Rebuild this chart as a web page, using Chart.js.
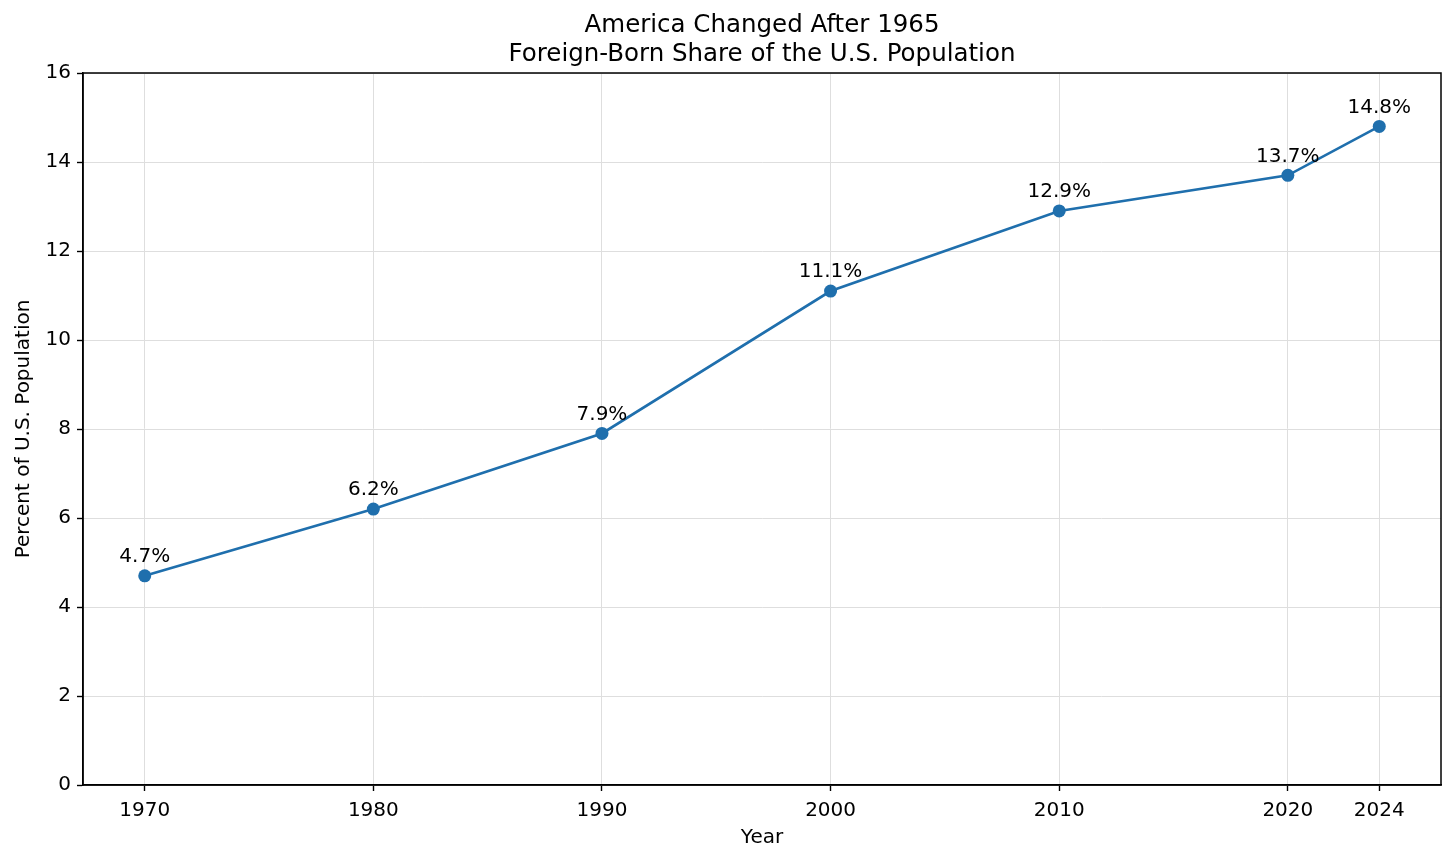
<!DOCTYPE html>
<html>
<head>
<meta charset="utf-8">
<script src="https://cdn.jsdelivr.net/npm/chart.js@4.4.0/dist/chart.umd.min.js"></script>
<style>
  html, body { margin: 0; padding: 0; background: #fff; }
  #wrap { width: 1456px; height: 864px; }
</style>
</head>
<body>
<div id="wrap"><canvas id="chart" width="1456" height="864"></canvas></div>
<script>
// data
const years = [1970, 1980, 1990, 2000, 2010, 2020, 2024];
const shares = [4.7, 6.2, 7.9, 11.1, 12.9, 13.7, 14.8];
const xTicks = [1970, 1980, 1990, 2000, 2010, 2020, 2024];
const titleLines = ['America Changed After 1965', 'Foreign-Born Share of the U.S. Population'];

const FONT = "'DejaVu Sans', sans-serif";
const BLUE = '#1f6fad';

// title centred on the axes like matplotlib, plus frame on all four sides
const framePlugin = {
  id: 'frame',
  afterDraw(chart) {
    const ctx = chart.ctx;
    const a = chart.chartArea;
    ctx.save();
    ctx.strokeStyle = '#000';
    ctx.lineWidth = 1.5;
    ctx.strokeRect(a.left, a.top, a.right - a.left, a.bottom - a.top);
    ctx.fillStyle = '#000';
    ctx.font = '24.5px ' + FONT;
    ctx.textAlign = 'center';
    ctx.textBaseline = 'middle';
    const cx = (a.left + a.right) / 2;
    ctx.fillText(titleLines[0], cx, 26);
    ctx.fillText(titleLines[1], cx, 55);
    ctx.restore();
  }
};

// value labels above each point
const labelPlugin = {
  id: 'pointLabels',
  afterDatasetsDraw(chart) {
    const ctx = chart.ctx;
    const meta = chart.getDatasetMeta(0);
    ctx.save();
    ctx.fillStyle = '#000';
    ctx.font = '20px ' + FONT;
    ctx.textAlign = 'center';
    ctx.textBaseline = 'middle';
    meta.data.forEach((pt, i) => {
      ctx.fillText(shares[i].toFixed(1) + '%', pt.x, pt.y - 19);
    });
    ctx.restore();
  }
};

const chart = new Chart(document.getElementById('chart'), {
  type: 'line',
  data: {
    datasets: [{
      data: years.map((y, i) => ({ x: y, y: shares[i] })),
      borderColor: BLUE,
      backgroundColor: BLUE,
      borderWidth: 2.6,
      pointRadius: 6.5,
      pointHoverRadius: 6.5,
      pointBorderWidth: 0,
      tension: 0
    }]
  },
  options: {
    responsive: false,
    animation: false,
    layout: { padding: { top: 73, right: 15, left: 0, bottom: 0 } },
    plugins: {
      legend: { display: false },
      tooltip: { enabled: false },
      title: { display: false }
    },
    scales: {
      x: {
        type: 'linear',
        min: 1967.3,
        max: 2026.7,
        afterBuildTicks: (scale) => { scale.ticks = xTicks.map(v => ({ value: v })); },
        afterFit: (scale) => { scale.height = 79; },
        ticks: {
          color: '#000',
          font: { family: FONT, size: 20 },
          padding: 8,
          maxRotation: 0,
          callback: (v) => String(v)
        },
        grid: { color: '#dedede', lineWidth: 1, tickLength: 6, tickColor: '#000', tickWidth: 1.4 },
        border: { color: '#000', width: 1.5 },
        title: { display: true, text: 'Year', color: '#000', font: { family: FONT, size: 20 }, padding: { top: 0, bottom: 14 } }
      },
      y: {
        min: 0,
        max: 16,
        afterFit: (scale) => { scale.width = 83; },
        ticks: {
          stepSize: 2,
          color: '#000',
          font: { family: FONT, size: 20 },
          padding: 6
        },
        grid: { color: '#dedede', lineWidth: 1, tickLength: 6, tickColor: '#000', tickWidth: 1.4 },
        border: { color: '#000', width: 1.5 },
        title: { display: true, text: 'Percent of U.S. Population', color: '#000', font: { family: FONT, size: 20 }, padding: { top: 12 } }
      }
    }
  },
  plugins: [framePlugin, labelPlugin]
});
</script>
</body>
</html>
